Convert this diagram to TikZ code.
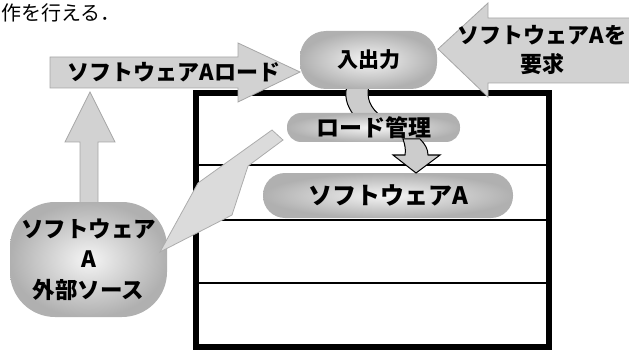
\documentclass[tikz,border=0pt]{standalone}
\usepackage{fontspec}
\newfontfamily\jp{Noto Sans CJK JP}
\usetikzlibrary{calc}
\begin{document}
\begin{tikzpicture}[x=1pt,y=-1pt,
  pill/.style={shade, inner color=gray!8, outer color=gray!62, inner sep=0pt},
  blockarrow/.style={draw=gray!70, line width=0.8pt, fill=gray!35},
  jtext/.style={font=\jp\bfseries\fontsize{#1}{#1}\selectfont, inner sep=0pt, text=black},
]
\useasboundingbox (0,0) rectangle (629,350);

% caption fragment
\node[anchor=west, inner sep=0pt, font=\jp\fontsize{20}{20}\selectfont] (cap) at (1,13) {作を行える．};

% memory box
\draw[line width=6pt] (196,93) rectangle (549,347);
\foreach \yy in {165,220,283} \draw[line width=2pt] (196,\yy) -- (549,\yy);

% up arrow
\draw[blockarrow] (80,210) -- (80,142) -- (65,142) -- (90,92) -- (115,142) -- (98,142) -- (98,210) -- cycle;

% external source blob
\node[pill, minimum width=157pt, minimum height=115pt, rounded corners=45pt] (ext) at (88.5,259.5) {};
\node[jtext=22.5, align=center] (extlbl) at (ext.center) {ソフトウェア\\[8pt]A\\[8pt]外部ソース};

% top arrow
\draw[blockarrow] (50,57) -- (238,57) -- (238,43) -- (300,72) -- (238,102) -- (238,88) -- (50,88) -- cycle;
\node[jtext=22] (loadlbl) at (174,72) {ソフトウェアAロード};

% right arrow
\draw[blockarrow] (630,18) -- (488,18) -- (488,3) -- (438,49) -- (488,97) -- (488,83) -- (630,83) -- cycle;
\node[jtext=22, align=center] (reqlbl) at (542,50) {ソフトウェアAを\\[7pt]要求};

% band from I/O to load manager
\draw[fill=gray!40, line width=1pt] (347,86) .. controls (343,100) and (350,110) .. (355,117) -- (382,117) .. controls (370,108) and (366,98) .. (369,86) -- cycle;

% I/O pill
\node[pill, minimum width=137pt, minimum height=58pt, rounded corners=26pt] (io) at (368.5,60) {};
\node[jtext=21] (iolbl) at (io.center) {入出力};

% load manager pill
\node[pill, minimum width=173pt, minimum height=29pt, rounded corners=14pt] (lm) at (373.5,127.5) {};
\node[jtext=23] (lmlbl) at (lm.center) {ロード管理};

% software A pill
\node[pill, minimum width=250pt, minimum height=45pt, rounded corners=22pt] (swa) at (388,195.5) {};
\node[jtext=24] (swalbl) at (swa.center) {ソフトウェアA};

% down arrow from load manager to software A
\draw[fill=gray!40, line width=1pt] (403,139) .. controls (405,145) and (406,150) .. (405,155) -- (393,155) -- (416,173) -- (440,155) -- (428,155) .. controls (428,149) and (425,144) .. (420,139) -- cycle;

% wedge callout from load manager to external source
\draw[fill=gray!28, draw=gray!65, line width=0.8pt] (272,130) -- (283,140) -- (248,166) -- (232,215) -- (160,252) -- (198,183) -- cycle;
\end{tikzpicture}
\end{document}
